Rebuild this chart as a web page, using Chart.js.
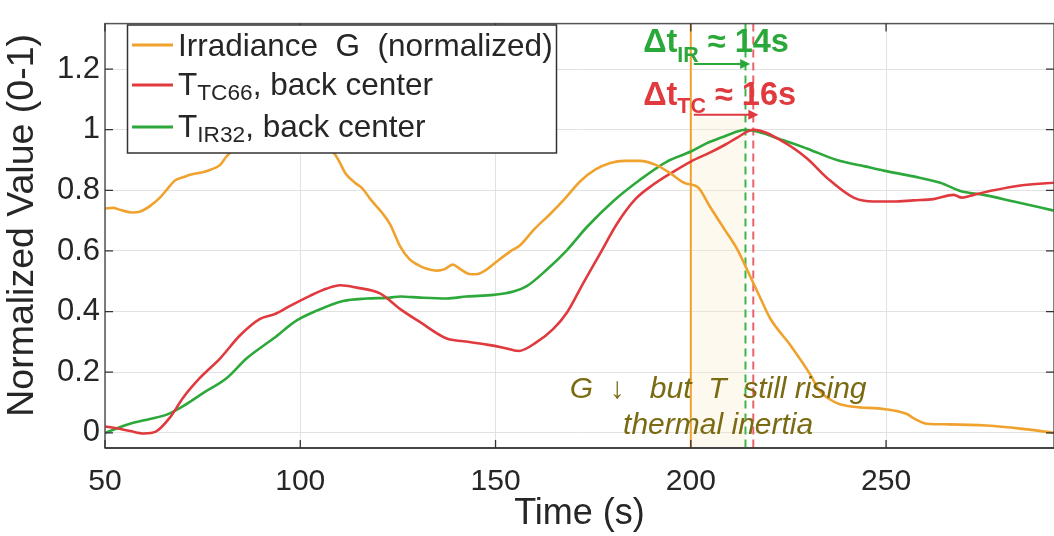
<!DOCTYPE html>
<html><head><meta charset="utf-8">
<script src="https://cdn.jsdelivr.net/npm/chart.js@4.4.1/dist/chart.umd.min.js"></script>
<style>html,body{margin:0;padding:0;background:#fff;}canvas{display:block;}</style>
</head><body>
<canvas id="c" width="1054" height="536"></canvas>
<script>
// ---------- data ----------
const seriesLabels = ['Irradiance  G  (normalized)', 'T_{TC66}, back center', 'T_{IR32}, back center'];
const seriesColors = ['#F0A22E', '#E03A3E', '#2DA83A'];

const tG = [50,52,54,57,59,61.5,64,66,68,70,72,75,77,79.5,81,85,90,95,100,105,108.5,110,111.5,114,116,118,121,123,125.6,128,130,132,135,137,139,141,143,145,147.3,150,153.7,156.3,160,164,168,171.7,175.5,179.4,183,187,191,194.7,197.8,199,200.5,202,205,208.8,212,214.7,217.8,220.3,225.5,230.6,233,235.7,238,241.6,249.8,255.3,257.5,260.5,266,275.8,284.4,293];
const vG = [0.740,0.742,0.735,0.727,0.730,0.748,0.775,0.805,0.833,0.843,0.852,0.860,0.868,0.884,0.910,0.960,0.990,1.000,0.990,0.960,0.925,0.895,0.857,0.825,0.805,0.770,0.725,0.688,0.614,0.572,0.555,0.543,0.535,0.540,0.555,0.540,0.525,0.523,0.535,0.562,0.598,0.619,0.673,0.722,0.776,0.830,0.868,0.890,0.897,0.897,0.884,0.857,0.828,0.822,0.818,0.808,0.744,0.668,0.603,0.530,0.445,0.378,0.289,0.192,0.138,0.110,0.095,0.086,0.078,0.062,0.045,0.030,0.028,0.024,0.014,0.000];

const tTC = [50,53,56.4,60,63,66.6,70,74.3,79.5,84.6,89.7,93.5,97.4,102.5,106.8,110.2,114.5,120.4,125.6,130.7,137.5,141.8,147.8,152,155.9,160.6,164.8,168.3,172.5,176.8,181.1,185.8,190.4,195.6,200,205,209,212,216,223.7,229.7,234.9,241.7,246.8,251.9,257,262.2,267.3,269.4,272.4,277.5,284.4,293];
const vTC = [0.021,0.015,0.006,-0.002,0.004,0.050,0.116,0.181,0.246,0.322,0.376,0.392,0.419,0.452,0.476,0.487,0.479,0.460,0.408,0.365,0.311,0.302,0.291,0.281,0.270,0.300,0.343,0.397,0.495,0.592,0.690,0.771,0.819,0.862,0.895,0.925,0.952,0.975,1.000,0.960,0.906,0.841,0.776,0.763,0.763,0.767,0.771,0.785,0.776,0.785,0.800,0.816,0.825];

const tIR = [50,56.4,61.5,65.8,70.1,75.2,81.2,86.3,93.1,99.1,104.2,111,117,123,125.6,130.7,137.5,142.6,149.5,154.6,158,163.1,168.3,173.4,180.2,187,193.9,200,204,208,211,214,223.7,229.7,237.4,244.6,249.4,257,263.9,269,275,282.7,293];
const vIR = [0.000,0.030,0.046,0.060,0.089,0.132,0.181,0.246,0.311,0.371,0.403,0.435,0.443,0.446,0.450,0.446,0.443,0.450,0.455,0.466,0.484,0.538,0.603,0.679,0.765,0.835,0.895,0.928,0.955,0.975,0.990,1.000,0.965,0.938,0.900,0.879,0.865,0.846,0.825,0.798,0.785,0.763,0.733];

const xTicks = [50, 100, 150, 200, 250];
const yTicks = [0, 0.2, 0.4, 0.6, 0.8, 1, 1.2];
const xTitle = 'Time (s)';
const yTitle = 'Normalized Value (0-1)';

// annotation values (seconds / normalized units)
const tDrop = 200, tPeakIR = 214, tPeakTC = 216;
const deltaIRLabel = 'Δt_{IR} ≈ 14s';
const deltaTCLabel = 'Δt_{TC} ≈ 16s';
const noteLines = ['G  ↓   but  T  still rising', 'thermal inertia'];

// ---------- helpers ----------
const FONT = "'Liberation Sans', Arial, Helvetica, sans-serif";
function parseRich(str){
  const parts=[]; const re=/_\{([^}]*)\}/g; let last=0,m;
  while((m=re.exec(str))){ if(m.index>last) parts.push({t:str.slice(last,m.index),sub:false}); parts.push({t:m[1],sub:true}); last=re.lastIndex; }
  if(last<str.length) parts.push({t:str.slice(last),sub:false});
  return parts;
}
function drawRich(ctx,str,x,y,o){
  const parts=parseRich(str); let cx=x;
  ctx.textBaseline='alphabetic'; ctx.textAlign='left'; ctx.fillStyle=o.color;
  for(const p of parts){
    const s=p.sub? o.size*o.subScale : o.size;
    ctx.font=`${o.style||'normal'} ${o.weight||'normal'} ${s}px ${FONT}`;
    ctx.fillText(p.t,cx,p.sub? y+o.subOffset : y);
    cx+=ctx.measureText(p.t).width;
  }
  return cx-x;
}
function arrow(ctx,x1,x2,y,color){
  ctx.save(); ctx.strokeStyle=color; ctx.fillStyle=color; ctx.lineWidth=2;
  ctx.beginPath(); ctx.moveTo(x1,y); ctx.lineTo(x2-8,y); ctx.stroke();
  ctx.beginPath(); ctx.moveTo(x2,y); ctx.lineTo(x2-10,y-5); ctx.lineTo(x2-10,y+5); ctx.closePath(); ctx.fill();
  ctx.restore();
}

const decor = {
  id:'decor',
  beforeDatasetsDraw(chart){
    const {ctx, chartArea:a, scales:{x,y}} = chart;
    ctx.save();
    ctx.beginPath(); ctx.rect(a.left,a.top,a.right-a.left,a.bottom-a.top); ctx.clip();
    ctx.fillStyle='rgba(252,232,196,0.28)';
    const xs=x.getPixelForValue(tDrop), xe=x.getPixelForValue(tPeakIR);
    ctx.fillRect(xs,y.getPixelForValue(1.04),xe-xs,a.bottom-y.getPixelForValue(1.04));
    ctx.strokeStyle=seriesColors[0]; ctx.lineWidth=2;
    ctx.beginPath(); ctx.moveTo(xs,a.top); ctx.lineTo(xs,a.bottom); ctx.stroke();
    ctx.setLineDash([8,5]);
    ctx.strokeStyle='#3DB54A';
    ctx.beginPath(); ctx.moveTo(x.getPixelForValue(tPeakIR),a.top); ctx.lineTo(x.getPixelForValue(tPeakIR),a.bottom); ctx.stroke();
    ctx.strokeStyle='#E8646C';
    ctx.beginPath(); ctx.moveTo(x.getPixelForValue(tPeakTC),a.top); ctx.lineTo(x.getPixelForValue(tPeakTC),a.bottom); ctx.stroke();
    ctx.restore();
  },
  afterDatasetsDraw(chart){
    const {ctx, chartArea:a, scales:{x,y}} = chart;
    ctx.save();
    ctx.strokeStyle='#555'; ctx.lineWidth=1.5;
    ctx.strokeRect(a.left,a.top,a.right-a.left,a.bottom-a.top);
    ctx.strokeStyle='#444'; ctx.lineWidth=2.2;
    ctx.beginPath(); ctx.moveTo(a.left,a.bottom); ctx.lineTo(a.right,a.bottom); ctx.stroke();
    ctx.strokeStyle='#333'; ctx.lineWidth=1.3;
    const L=8;
    for(const t of xTicks){ const px=x.getPixelForValue(t);
      ctx.beginPath(); ctx.moveTo(px,a.bottom); ctx.lineTo(px,a.bottom-L); ctx.moveTo(px,a.top); ctx.lineTo(px,a.top+L); ctx.stroke(); }
    for(const t of yTicks){ const py=y.getPixelForValue(t);
      ctx.beginPath(); ctx.moveTo(a.left,py); ctx.lineTo(a.left+L,py); ctx.moveTo(a.right,py); ctx.lineTo(a.right-L,py); ctx.stroke(); }
    ctx.restore();

    // delta annotations
    const ax = x.getPixelForValue(187.8);
    drawRich(ctx, deltaIRLabel, ax, y.getPixelForValue(1.255), {size:32.5, weight:'bold', color:'#2BA83A', subScale:0.66, subOffset:10});
    drawRich(ctx, deltaTCLabel, ax, y.getPixelForValue(1.080), {size:32.5, weight:'bold', color:'#E0393E', subScale:0.66, subOffset:8});
    arrow(ctx, x.getPixelForValue(tDrop)+3, x.getPixelForValue(215.2), y.getPixelForValue(1.217), '#2BA83A');
    arrow(ctx, x.getPixelForValue(tDrop)+3, x.getPixelForValue(217.3), y.getPixelForValue(1.049), '#E0393E');

    // note text
    ctx.save();
    ctx.fillStyle='#7A6A12'; ctx.textAlign='center'; ctx.textBaseline='alphabetic';
    ctx.font=`italic 30px ${FONT}`;
    const cx = x.getPixelForValue(207.0);
    ctx.fillText(noteLines[0], cx, y.getPixelForValue(0.116));
    ctx.fillText(noteLines[1], cx, y.getPixelForValue(-0.003));
    ctx.restore();

    // legend
    ctx.save();
    const bx=127.5, by=25, bw=429, bh=128;
    ctx.fillStyle='#fff'; ctx.fillRect(bx,by,bw,bh);
    ctx.strokeStyle='#333'; ctx.lineWidth=1.5; ctx.strokeRect(bx,by,bw,bh);
    const rowsLine=[45,85,127], rowsBase=[56,95,137];
    chart.data.datasets.forEach((ds,i)=>{
      ctx.strokeStyle=ds.borderColor; ctx.lineWidth=3;
      ctx.beginPath(); ctx.moveTo(132,rowsLine[i]); ctx.lineTo(173,rowsLine[i]); ctx.stroke();
      drawRich(ctx, ds.label, 178, rowsBase[i], {size:31.5, color:'#262626', subScale:0.72, subOffset:5});
    });
    ctx.restore();
  }
};

function pts(t,v){ return t.map((tt,i)=>({x:tt,y:v[i]})); }

new Chart(document.getElementById('c'), {
  type:'line',
  data:{ datasets:[
    {label:seriesLabels[0], data:pts(tG,vG), borderColor:seriesColors[0]},
    {label:seriesLabels[1], data:pts(tTC,vTC), borderColor:seriesColors[1]},
    {label:seriesLabels[2], data:pts(tIR,vIR), borderColor:seriesColors[2]},
  ].map(d=>Object.assign(d,{borderWidth:2.6, pointRadius:0, fill:false, cubicInterpolationMode:'monotone'}))},
  options:{
    responsive:false, animation:false, devicePixelRatio:1,
    layout:{padding:{top:17,right:0,left:0,bottom:0}},
    plugins:{legend:{display:false}, tooltip:{enabled:false}},
    scales:{
      x:{ type:'linear', min:50, max:293,
        afterBuildTicks:s=>{ s.ticks=xTicks.map(v=>({value:v})); },
        afterFit:s=>{ s.height=88; },
        grid:{color:'#e2e2e2', lineWidth:1, drawTicks:false},
        border:{display:false},
        ticks:{font:{family:FONT,size:30}, color:'#262626', padding:16, maxRotation:0, autoSkip:false, callback:v=>String(v)},
        title:{display:true, text:xTitle, font:{family:FONT,size:36,lineHeight:1.2}, color:'#262626', padding:{top:0,bottom:0}}
      },
      y:{ type:'linear', min:-0.05, max:1.35,
        afterBuildTicks:s=>{ s.ticks=yTicks.map(v=>({value:v})); },
        afterFit:s=>{ s.width=105; },
        grid:{color:'#e2e2e2', lineWidth:1, drawTicks:false},
        border:{display:false},
        ticks:{font:{family:FONT,size:31}, color:'#262626', padding:5, autoSkip:false, callback:v=>String(Math.round(v*10)/10)},
        title:{display:true, text:'  ' + yTitle, font:{family:FONT,size:37.5,lineHeight:1.2}, color:'#262626', padding:{top:0,bottom:0}}
      }
    }
  },
  plugins:[decor]
});
</script>
</body></html>
